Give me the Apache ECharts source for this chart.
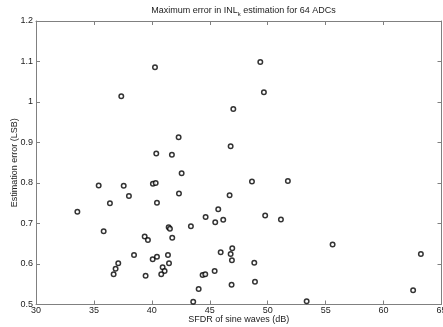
<!DOCTYPE html>
<html>
<head>
<meta charset="utf-8">
<script src="https://cdn.jsdelivr.net/npm/echarts@6/dist/echarts.min.js"></script>
<style>html,body{margin:0;padding:0;background:#fff}#c{width:443px;height:327px}</style>
</head>
<body>
<div id="c"></div>
<script>
const sfdr = [40.27,37.36,42.31,40.38,41.73,49.36,49.67,47.03,46.80,35.41,37.57,38.02,33.57,36.38,40.09,40.33,40.44,42.34,35.84,39.38,39.66,41.45,41.56,41.76,38.46,41.39,37.10,40.07,40.44,41.48,36.87,36.70,40.93,41.10,40.81,39.46,42.57,48.64,51.74,46.71,45.73,44.64,45.47,46.16,49.78,51.14,43.37,46.94,45.94,46.80,46.91,48.84,45.42,44.38,44.61,44.04,46.88,48.90,43.57,53.36,55.60,63.22,62.55];
const errorVals = [1.086,1.014,0.913,0.873,0.870,1.099,1.024,0.983,0.891,0.794,0.793,0.768,0.729,0.750,0.798,0.800,0.751,0.774,0.681,0.668,0.659,0.691,0.687,0.665,0.622,0.622,0.602,0.612,0.618,0.602,0.588,0.575,0.592,0.583,0.575,0.571,0.824,0.804,0.805,0.770,0.735,0.716,0.703,0.709,0.720,0.710,0.693,0.639,0.629,0.625,0.609,0.603,0.583,0.573,0.575,0.538,0.549,0.556,0.507,0.508,0.648,0.625,0.535];
const xTicks = [30,35,40,45,50,55,60,65];
const yTicks = [0.5,0.6,0.7,0.8,0.9,1,1.1,1.2];

const chart = echarts.init(document.getElementById('c'), null, {renderer:'canvas'});
const axisColor = '#808080';
const font = 'Liberation Sans, Arial, sans-serif';
const txt = '#222';
const lineStyle = {color: axisColor, width: 1};
chart.setOption({
  animation: false,
  backgroundColor: '#fff',
  title: {
    text: 'Maximum error in {n|INL}{s|k} estimation for 64 ADCs',
    left: 238.5, top: 0, textAlign: 'center',
    textStyle: {
      fontFamily: font, fontSize: 9, fontWeight: 'normal', color: txt,
      rich: {
        n: {fontFamily: font, fontSize: 9, color: txt},
        s: {fontFamily: font, fontSize: 6, color: txt, padding: [6,0,0,0]}
      }
    }
  },
  grid: {left: 36, right: 1.5, top: 21, bottom: 22.5, outerBoundsMode: 'none', containLabel: false},
  xAxis: [{
    type: 'value', min: 30, max: 65, interval: 5,
    name: 'SFDR of sine waves (dB)', nameLocation: 'middle', nameGap: 11, nameMoveOverlap: false,
    nameTextStyle: {fontFamily: font, fontSize: 9, color: txt},
    axisLine: {show: true, lineStyle},
    axisTick: {show: true, inside: true, length: 4, lineStyle},
    axisLabel: {fontFamily: font, fontSize: 9, color: txt, margin: 2, formatter: v => xTicks.includes(v) ? String(v) : ''},
    splitLine: {show: false}
  }, {
    type: 'value', min: 30, max: 65, interval: 5, position: 'top',
    axisLine: {show: true, lineStyle},
    axisTick: {show: true, inside: true, length: 4, lineStyle},
    axisLabel: {show: false}, splitLine: {show: false}
  }],
  yAxis: [{
    type: 'value', min: 0.5, max: 1.2, interval: 0.1,
    name: 'Estimation error (LSB)', nameLocation: 'middle', nameGap: 17, nameMoveOverlap: false,
    nameTextStyle: {fontFamily: font, fontSize: 9, color: txt},
    axisLine: {show: true, lineStyle},
    axisTick: {show: true, inside: true, length: 4, lineStyle},
    axisLabel: {fontFamily: font, fontSize: 9, color: txt, margin: 3,
      formatter: v => { const r = Math.round(v*10)/10; return yTicks.includes(r) ? String(r) : ''; }},
    splitLine: {show: false}
  }, {
    type: 'value', min: 0.5, max: 1.2, interval: 0.1, position: 'right',
    axisLine: {show: true, lineStyle},
    axisTick: {show: true, inside: true, length: 4, lineStyle},
    axisLabel: {show: false}, splitLine: {show: false}
  }],
  series: [{
    type: 'scatter',
    xAxisIndex: 0, yAxisIndex: 0,
    data: sfdr.map((x, i) => [x, errorVals[i]]),
    symbol: 'circle', symbolSize: 4.5,
    itemStyle: {color: '#fff', borderColor: '#000', borderWidth: 1.5}
  }]
});
</script>
</body>
</html>
